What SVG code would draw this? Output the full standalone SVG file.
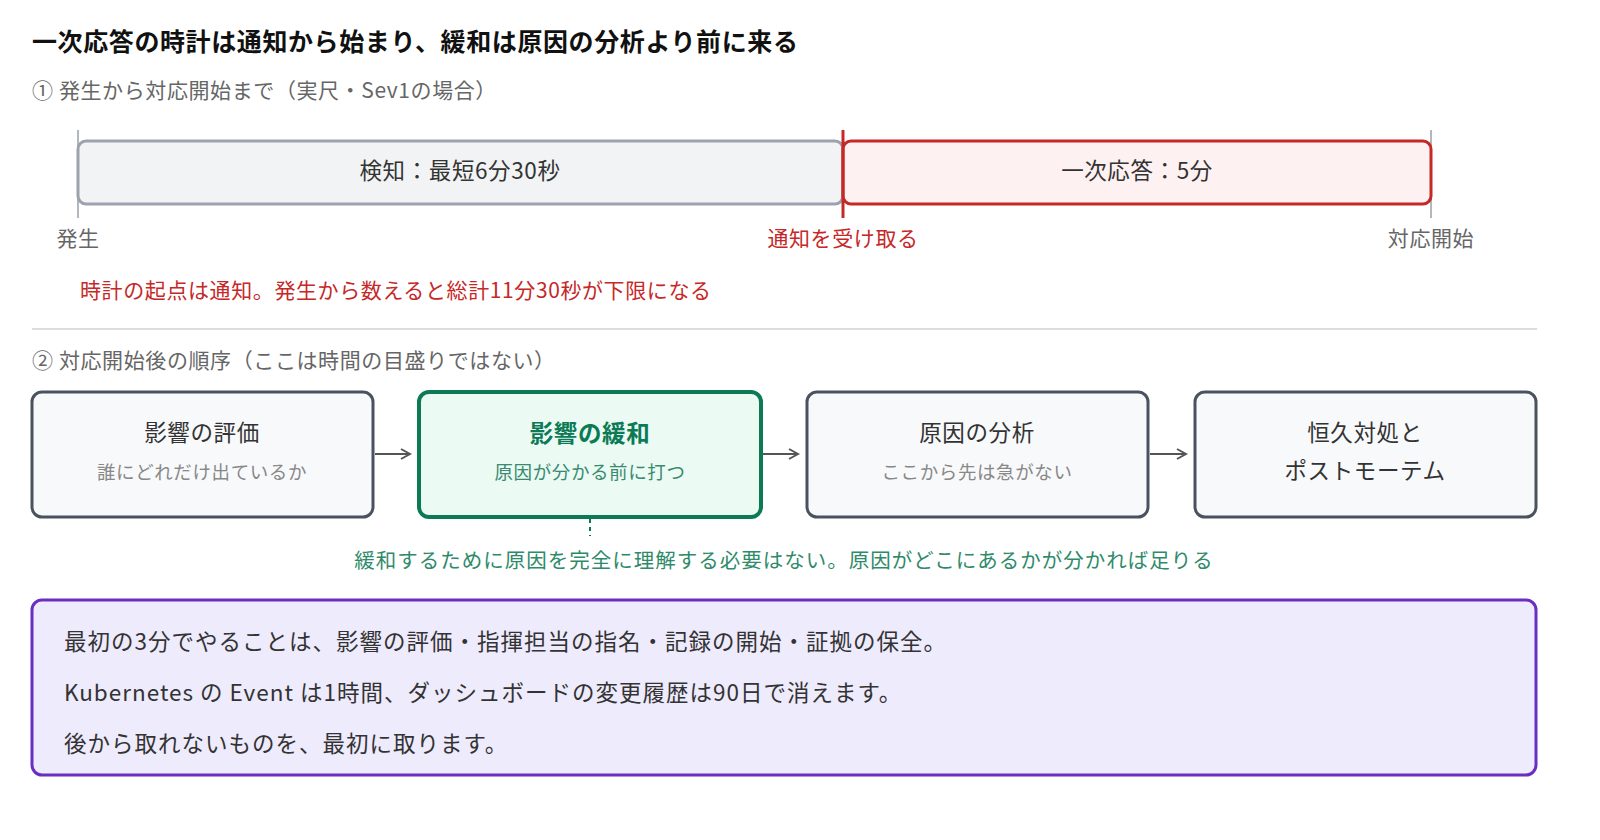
<svg xmlns="http://www.w3.org/2000/svg" width="1600" height="840" viewBox="0 0 1600 840">
<style>
text{font-family:"Noto Sans CJK JP","Noto Sans",sans-serif;letter-spacing:0.6px}
.t{font-size:22.5px;fill:#333}
.s{font-size:18.5px;fill:#888}
.g{font-size:21px;fill:#666}
.red{fill:#c62828}
.box{fill:#f8f9fb;stroke:#4a5260;stroke-width:3}
.c{stroke:#555;stroke-width:2;fill:none}
</style>
<defs><marker id="a" markerWidth="12" markerHeight="12" refX="10" refY="6" orient="auto" markerUnits="userSpaceOnUse"><path d="M1,1 L10,6 L1,11" fill="none" stroke="#555" stroke-width="2"/></marker></defs>
<rect width="1600" height="840" fill="#fff"/>
<text x="32" y="51" font-size="25" font-weight="bold" fill="#111">一次応答の時計は通知から始まり、緩和は原因の分析より前に来る</text>
<text x="32" y="98" class="g">① 発生から対応開始まで（実尺・Sev1の場合）</text>
<g id="timeline">
<line x1="78" y1="130" x2="78" y2="218" stroke="#9aa0a8" stroke-width="1.5"/>
<line x1="1431" y1="130" x2="1431" y2="218" stroke="#9aa0a8" stroke-width="1.5"/>
<rect x="78" y="141" width="765" height="63" rx="8" fill="#f2f3f5" stroke="#9ca3ae" stroke-width="3"/>
<text x="460" y="179" text-anchor="middle" class="t" fill="#444">検知：最短6分30秒</text>
<rect x="843" y="141" width="588" height="63" rx="8" fill="#fef1f1" stroke="#c62828" stroke-width="3"/>
<text x="1137" y="179" text-anchor="middle" class="t">一次応答：5分</text>
<line x1="843" y1="130" x2="843" y2="218" stroke="#c62828" stroke-width="3"/>
<text x="78" y="246" text-anchor="middle" class="g">発生</text>
<text x="843" y="246" text-anchor="middle" class="g red">通知を受け取る</text>
<text x="1431" y="246" text-anchor="middle" class="g">対応開始</text>
<text x="80" y="298" class="g red">時計の起点は通知。発生から数えると総計11分30秒が下限になる</text>
</g>
<line x1="32" y1="329" x2="1537" y2="329" stroke="#ddd" stroke-width="2"/>
<text x="32" y="368" class="g">② 対応開始後の順序（ここは時間の目盛りではない）</text>
<g id="n1"><rect x="32" y="392" width="341" height="125" rx="10" class="box"/>
<text x="202" y="441" text-anchor="middle" class="t">影響の評価</text>
<text x="202" y="479" text-anchor="middle" class="s">誰にどれだけ出ているか</text></g>
<g id="n2"><rect x="419" y="392" width="342" height="125" rx="10" fill="#ebfbf3" stroke="#0b7a55" stroke-width="4"/>
<text x="590" y="442" text-anchor="middle" font-size="23.5" font-weight="bold" fill="#0b7a55">影響の緩和</text>
<text x="590" y="479" text-anchor="middle" font-size="18.5" fill="#3a8a70">原因が分かる前に打つ</text></g>
<g id="n3"><rect x="807" y="392" width="341" height="125" rx="10" class="box"/>
<text x="977" y="441" text-anchor="middle" class="t">原因の分析</text>
<text x="977" y="479" text-anchor="middle" class="s">ここから先は急がない</text></g>
<g id="n4"><rect x="1195" y="392" width="341" height="125" rx="10" class="box"/>
<text x="1365" y="441" text-anchor="middle" class="t">恒久対処と</text>
<text x="1365" y="479" text-anchor="middle" class="t">ポストモーテム</text></g>
<g id="connectors">
<line x1="375" y1="454" x2="410" y2="454" class="c" marker-end="url(#a)"/>
<line x1="763" y1="454" x2="798" y2="454" class="c" marker-end="url(#a)"/>
<line x1="1150" y1="454" x2="1186" y2="454" class="c" marker-end="url(#a)"/>
<line x1="590" y1="519" x2="590" y2="536" stroke="#0b7a55" stroke-width="2" stroke-dasharray="4 4"/>
</g>
<text x="784" y="568" text-anchor="middle" font-size="20.5" fill="#2f8a6a" style="letter-spacing:1px">緩和するために原因を完全に理解する必要はない。原因がどこにあるかが分かれば足りる</text>
<g id="note"><rect x="32" y="600" width="1504" height="175" rx="10" fill="#eeebfd" stroke="#6a2ec0" stroke-width="3"/>
<text x="64" y="650" class="t" style="letter-spacing:1px">最初の3分でやることは、影響の評価・指揮担当の指名・記録の開始・証拠の保全。</text>
<text x="64" y="701" class="t" style="letter-spacing:1px">Kubernetes の Event は1時間、ダッシュボードの変更履歴は90日で消えます。</text>
<text x="64" y="752" class="t" style="letter-spacing:1px">後から取れないものを、最初に取ります。</text></g>
</svg>
